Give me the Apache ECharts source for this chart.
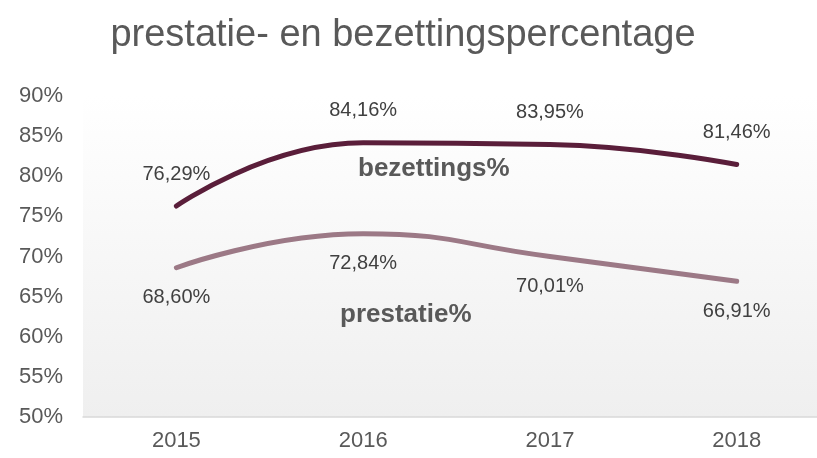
<!DOCTYPE html>
<html>
<head>
<meta charset="utf-8">
<script src="https://cdn.jsdelivr.net/npm/echarts@6/dist/echarts.min.js"></script>
<style>
	html, body { margin: 0; padding: 0; background: #fff; }
	#chart { width: 817px; height: 458px; }
</style>
</head>
<body>
<div id="chart"></div>
<script>
	// data
	var years = ['2015', '2016', '2017', '2018'];
	var bezetting = [76.29, 84.16, 83.95, 81.46];
	var prestatie = [68.60, 72.84, 70.01, 66.91];
	var yTicks = { min: 50, max: 90, step: 5 };

	function pct(v) {
		return v.toFixed(2).replace('.', ',') + '%';
	}

	// category index as x, the plot runs past the right edge of the picture
	var xIdx = years.map(function(y, i) { return i; });
	function pairs(arr) {
		return arr.map(function(v, i) { return [i, v]; });
	}

	var myChart = echarts.init(document.getElementById('chart'));
	var option = {
		animation: false,
		title: {
			text: 'prestatie- en bezettingspercentage',
			left: 398,
			top: 12,
			textAlign: 'center',
			textStyle: {
				color: '#595959',
				fontSize: 38,
				fontWeight: 'normal',
				fontFamily: 'Liberation Sans'
			}
		},
		grid: {
			left: 83,
			top: 96,
			right: 0,
			height: 321,
			show: true,
			borderWidth: 0,
			backgroundColor: new echarts.graphic.LinearGradient(0, 0, 0, 1, [
				{ offset: 0, color: '#ffffff' },
				{ offset: 1, color: '#efefef' }
			])
		},
		xAxis: {
			type: 'value',
			min: -0.5,
			max: 3.43,
			splitLine: { show: false },
			axisLine: { onZero: false, lineStyle: { color: '#d9d9d9', width: 1.5 } },
			axisTick: { show: false },
			axisLabel: {
				customValues: xIdx,
				color: '#595959',
				fontSize: 22,
				margin: 13,
				fontFamily: 'Liberation Sans',
				formatter: function(v) { return years[Math.round(v)]; }
			}
		},
		yAxis: {
			type: 'value',
			min: yTicks.min,
			max: yTicks.max,
			interval: yTicks.step,
			splitLine: { show: false },
			axisLine: { show: false },
			axisTick: { show: false },
			axisLabel: {
				color: '#595959',
				fontSize: 22,
				margin: 20,
				fontFamily: 'Liberation Sans',
				formatter: '{value}%'
			}
		},
		series: [{
				name: 'bezettings%',
				type: 'line',
				data: pairs(bezetting),
				smooth: 0.5,
				symbol: 'circle',
				symbolSize: 0,
				showSymbol: true,
				lineStyle: { color: '#5a1e3a', width: 5, cap: 'round' },
				label: {
					show: true,
					position: 'top',
					distance: 22,
					color: '#404040',
					fontSize: 20,
					fontFamily: 'Liberation Sans',
					formatter: function(p) { return pct(p.value[1]); }
				}
			},
			{
				name: 'prestatie%',
				type: 'line',
				data: pairs(prestatie),
				smooth: 0.5,
				symbol: 'circle',
				symbolSize: 0,
				showSymbol: true,
				lineStyle: { color: '#9c7986', width: 5, cap: 'round' },
				label: {
					show: true,
					position: 'bottom',
					distance: 20,
					color: '#404040',
					fontSize: 20,
					fontFamily: 'Liberation Sans',
					formatter: function(p) { return pct(p.value[1]); }
				}
			}
		],
		graphic: [{
				type: 'text',
				left: 358,
				top: 156,
				style: {
					text: 'bezettings%',
					fill: '#595959',
					font: 'bold 26px "Liberation Sans"'
				}
			},
			{
				type: 'text',
				left: 340,
				top: 302,
				style: {
					text: 'prestatie%',
					fill: '#595959',
					font: 'bold 26px "Liberation Sans"'
				}
			}
		]
	};
	myChart.setOption(option);
</script>
</body>
</html>
